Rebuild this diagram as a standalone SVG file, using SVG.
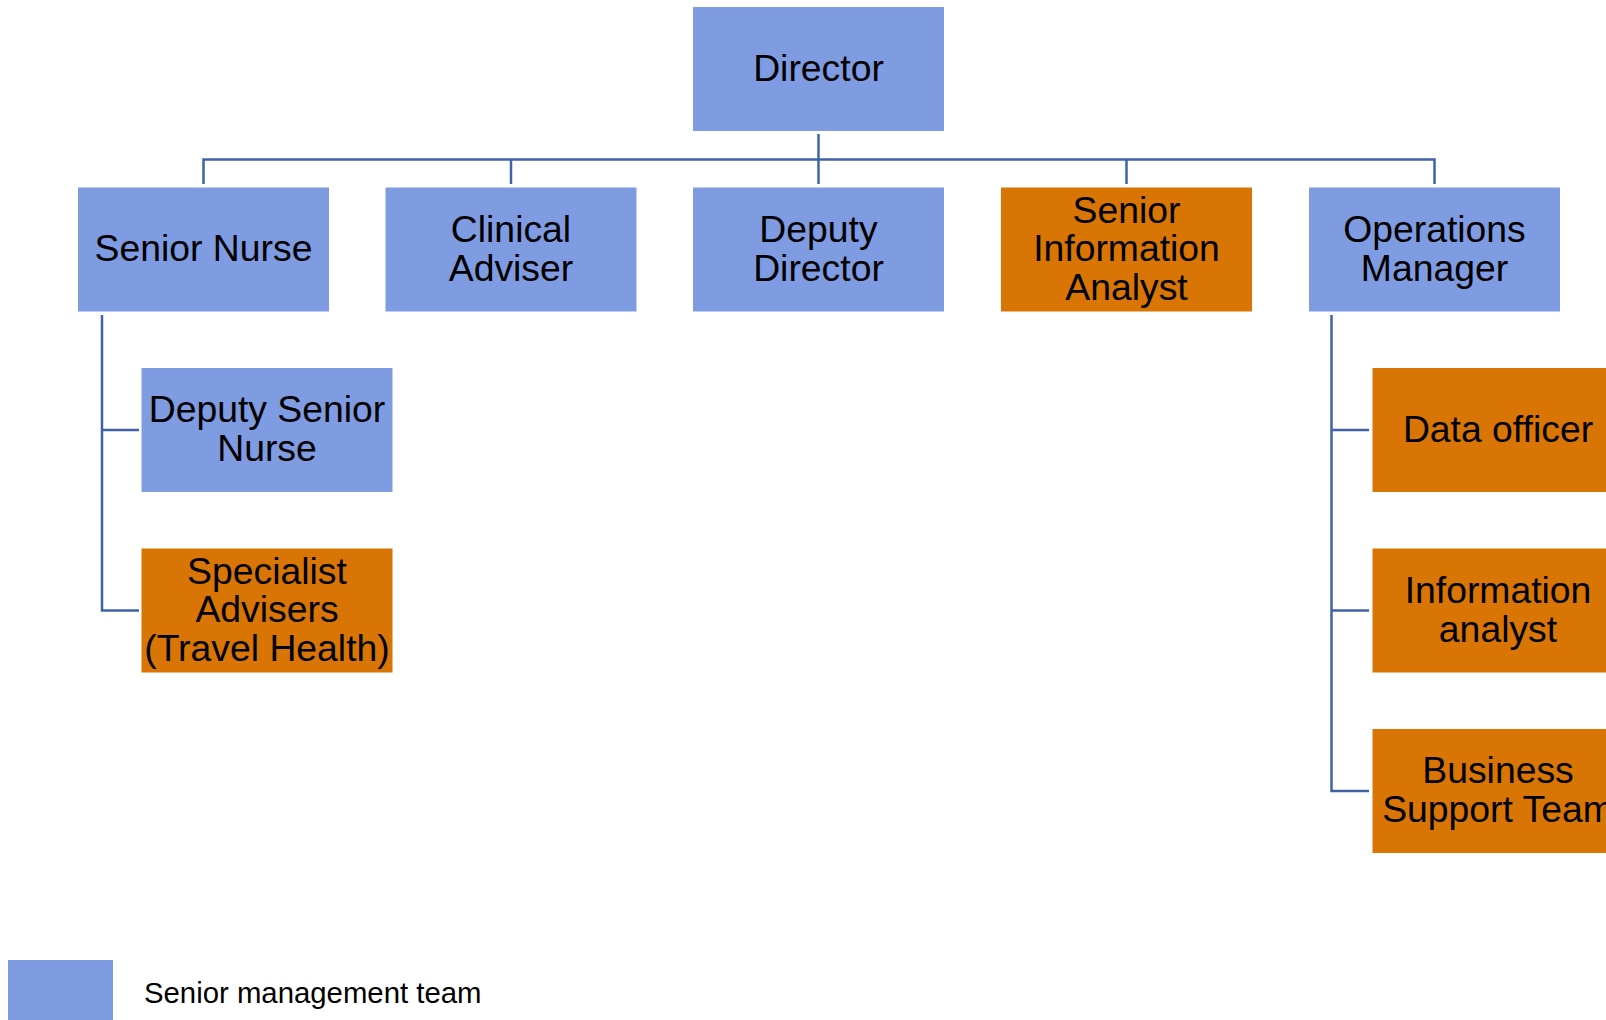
<svg xmlns="http://www.w3.org/2000/svg" width="1606" height="1020" viewBox="0 0 1606 1020">
<style>
.b{fill:#7F9BE2}
.o{fill:#D97504}
.t{font-family:"Liberation Sans",Arial,sans-serif;font-size:37.33px;fill:#000;text-anchor:middle}
.c{fill:none;stroke:#4062A8;stroke-width:2.5}
</style>
<rect width="1606" height="1020" fill="#fff"/>
<g id="connectors" class="c">
<path d="M818.5,134 V184"/>
<path d="M203.5,184 V159.5 H1434.5 V184"/>
<path d="M511,159.5 V184"/>
<path d="M1126.5,159.5 V184"/>
<path d="M102,315 V610.5 H139"/>
<path d="M102,430 H139"/>
<path d="M1331.5,315 V791 H1369"/>
<path d="M1331.5,430 H1369"/>
<path d="M1331.5,610.5 H1369"/>
</g>
<g id="director"><rect class="b" x="693" y="7" width="251" height="124"/><text class="t" x="818.5" y="81">Director</text></g>
<g id="senior-nurse"><rect class="b" x="78" y="187.5" width="251" height="124"/><text class="t" x="203.5" y="261">Senior Nurse</text></g>
<g id="clinical-adviser"><rect class="b" x="385.5" y="187.5" width="251" height="124"/><text class="t" x="511" y="242">Clinical</text><text class="t" x="511" y="280.5">Adviser</text></g>
<g id="deputy-director"><rect class="b" x="693" y="187.5" width="251" height="124"/><text class="t" x="818.5" y="242">Deputy</text><text class="t" x="818.5" y="280.5">Director</text></g>
<g id="senior-information-analyst"><rect class="o" x="1001" y="187.5" width="251" height="124"/><text class="t" x="1126.5" y="222.5">Senior</text><text class="t" x="1126.5" y="261">Information</text><text class="t" x="1126.5" y="299.5">Analyst</text></g>
<g id="operations-manager"><rect class="b" x="1309" y="187.5" width="251" height="124"/><text class="t" x="1434.5" y="242">Operations</text><text class="t" x="1434.5" y="280.5">Manager</text></g>
<g id="deputy-senior-nurse"><rect class="b" x="141.5" y="368" width="251" height="124"/><text class="t" x="267" y="422">Deputy Senior</text><text class="t" x="267" y="460.5">Nurse</text></g>
<g id="specialist-advisers"><rect class="o" x="141.5" y="548.5" width="251" height="124"/><text class="t" x="267" y="583.5">Specialist</text><text class="t" x="267" y="622">Advisers</text><text class="t" x="267" y="660.5">(Travel Health)</text></g>
<g id="data-officer"><rect class="o" x="1372.5" y="368" width="251" height="124"/><text class="t" x="1498" y="441.5">Data officer</text></g>
<g id="information-analyst"><rect class="o" x="1372.5" y="548.5" width="251" height="124"/><text class="t" x="1498" y="603">Information</text><text class="t" x="1498" y="641.5">analyst</text></g>
<g id="business-support-team"><rect class="o" x="1372.5" y="729" width="251" height="124"/><text class="t" x="1498" y="783">Business</text><text class="t" x="1498" y="821.5">Support Team</text></g>
<g id="legend"><rect class="b" x="8" y="960" width="105" height="60"/><text x="144" y="1003" style="font-family:'Liberation Sans',Arial,sans-serif;font-size:29.33px;fill:#000">Senior management team</text></g>
</svg>
